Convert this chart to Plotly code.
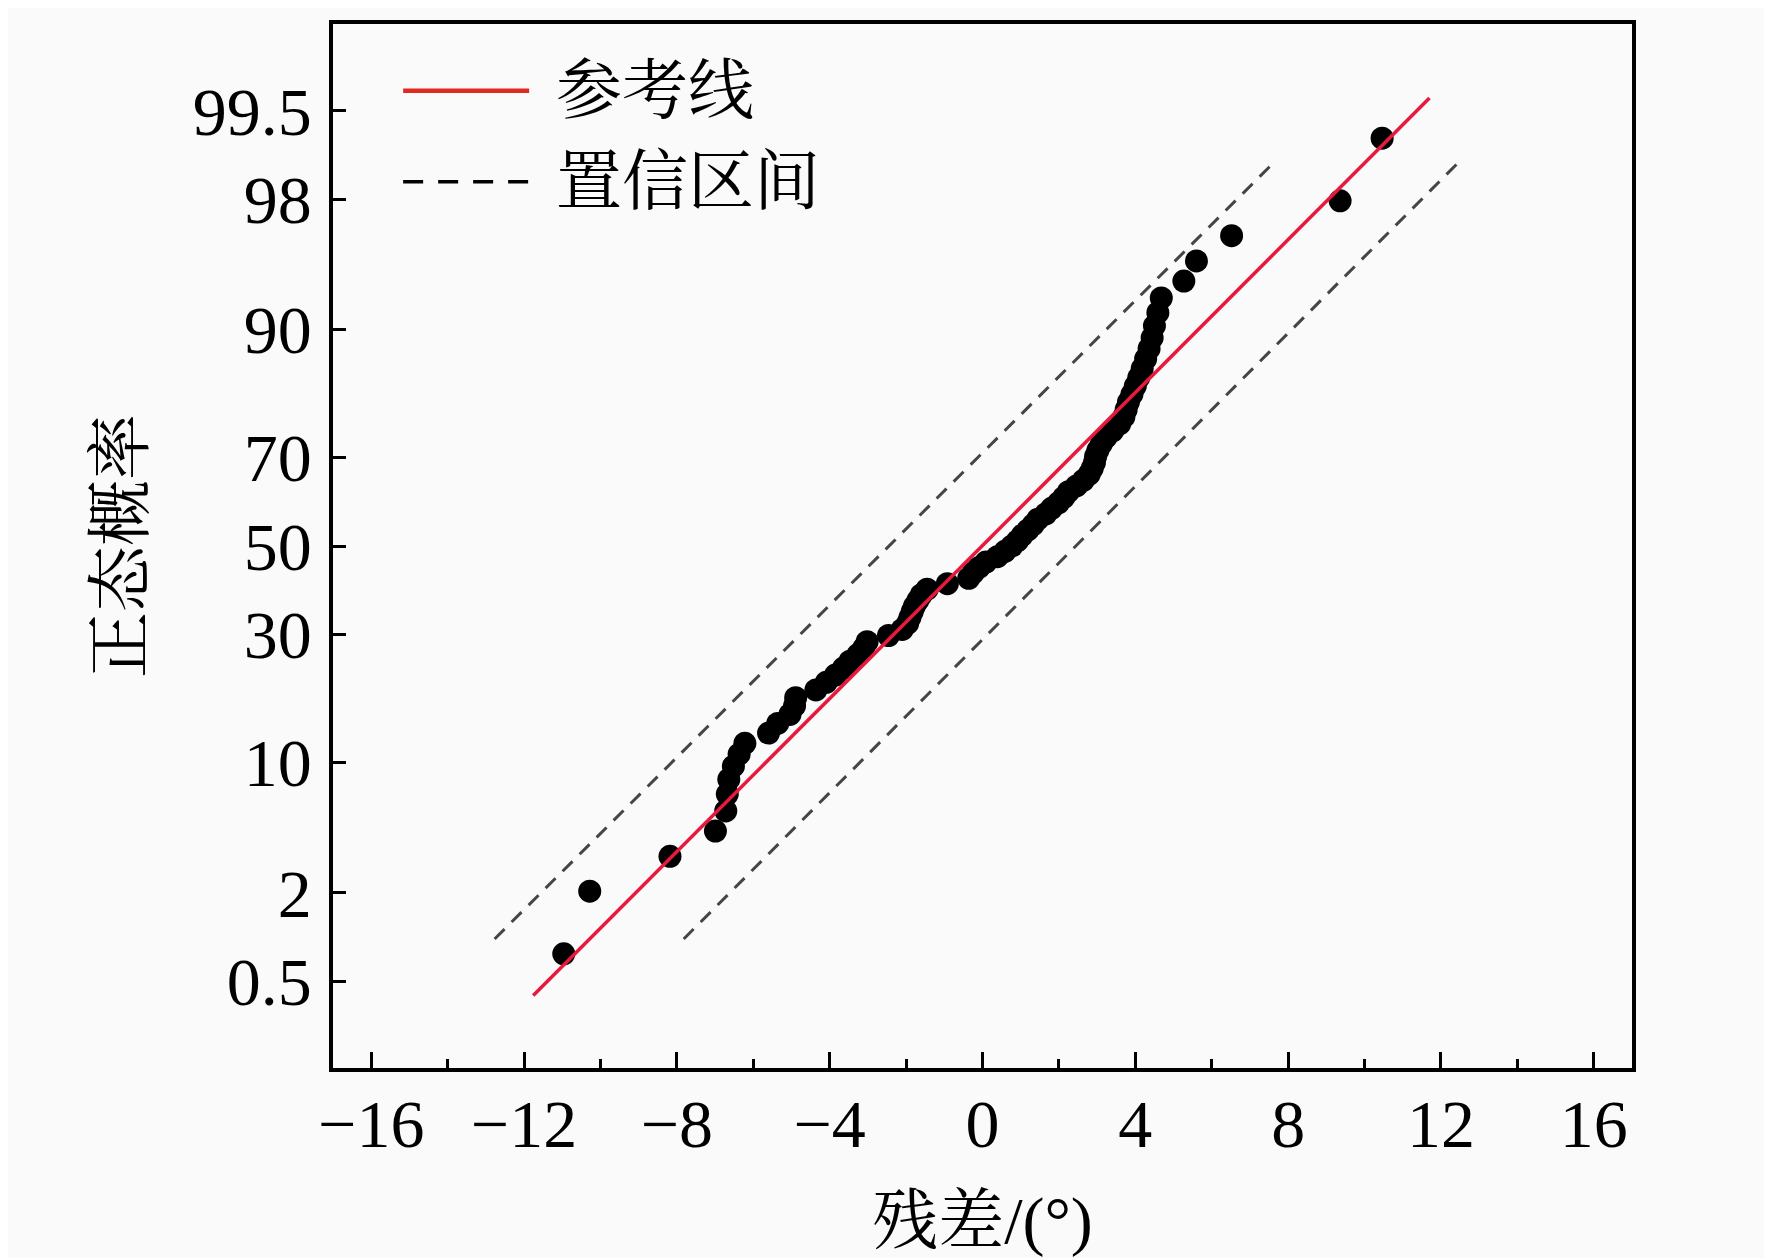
from statistics import NormalDist
import plotly.graph_objects as go

# residuals in degrees, sorted (79 points)
residuals = [
    -10.96, -10.28, -8.18, -6.99, -6.72, -6.68, -6.64, -6.52, -6.37, -6.22,
    -5.60, -5.36, -5.04, -4.92, -4.89, -4.36, -4.09, -3.85, -3.64, -3.47,
    -3.26, -3.11, -3.02, -2.46, -2.10, -1.96, -1.90, -1.84, -1.78, -1.69,
    -1.60, -1.45, -0.92, -0.36, -0.24, -0.09, 0.09, 0.39, 0.59, 0.77,
    0.92, 1.04, 1.19, 1.33, 1.45, 1.66, 1.81, 1.99, 2.13, 2.25,
    2.46, 2.64, 2.79, 2.87, 2.93, 2.96, 3.02, 3.11, 3.23, 3.41,
    3.59, 3.70, 3.76, 3.82, 3.91, 4.00, 4.09, 4.18, 4.27, 4.36,
    4.44, 4.50, 4.59, 4.68, 5.27, 5.60, 6.52, 9.36, 10.46,
]

# reference line and confidence band ends (residual, probability %)
ref_x = [-11.76, 11.70]
ref_p = [0.39, 99.60]
upper_x = [-12.77, 7.61]
upper_p = [1.0, 98.83]
lower_x = [-7.82, 12.47]
lower_p = [1.0, 98.85]

prob_ticks = [0.5, 2, 10, 30, 50, 70, 90, 98, 99.5]
prob_labels = ["0.5", "2", "10", "30", "50", "70", "90", "98", "99.5"]
prob_range = [0.1, 99.9]

nd = NormalDist()


def to_z(pct):
    return [nd.inv_cdf(v / 100.0) for v in pct]


# probability plotting positions (Blom)
n = len(residuals)
pos_p = [100.0 * (i - 0.375) / (n + 0.25) for i in range(1, n + 1)]

NUM_FONT = "Liberation Serif, Times New Roman, serif"
CJK_FONT = "Liberation Serif, Noto Serif CJK SC, Noto Sans CJK SC, serif"
RED = "#e8193f"
DASH = "#454545"

fig = go.Figure()

fig.add_trace(go.Scatter(x=upper_x, y=to_z(upper_p), mode="lines",
                         line=dict(color=DASH, width=3, dash="14px,10px"),
                         name="置信区间", showlegend=False))
fig.add_trace(go.Scatter(x=lower_x, y=to_z(lower_p), mode="lines",
                         line=dict(color=DASH, width=3, dash="14px,10px"),
                         showlegend=False))
fig.add_trace(go.Scatter(x=residuals, y=to_z(pos_p), mode="markers",
                         marker=dict(color="black", size=23),
                         showlegend=False))
fig.add_trace(go.Scatter(x=ref_x, y=to_z(ref_p), mode="lines",
                         line=dict(color=RED, width=3.5),
                         name="参考线", showlegend=False))

# legend drawn by hand so the samples are as long as in the original
fig.add_shape(type="line", xref="paper", yref="paper",
              x0=0.054, x1=0.151, y0=0.936, y1=0.936,
              line=dict(color="#e02a1e", width=4.5))
fig.add_shape(type="line", xref="paper", yref="paper",
              x0=0.054, x1=0.151, y0=0.849, y1=0.849,
              line=dict(color="black", width=3.5, dash="20px,15px"))
fig.add_annotation(text="参考线", xref="paper", yref="paper", x=0.170, y=0.936,
                   xanchor="left", yanchor="middle", showarrow=False,
                   font=dict(family=CJK_FONT, size=66, color="black"))
fig.add_annotation(text="置信区间", xref="paper", yref="paper", x=0.170, y=0.849,
                   xanchor="left", yanchor="middle", showarrow=False,
                   font=dict(family=CJK_FONT, size=66, color="black"))

fig.update_xaxes(
    range=[-17, 17], tick0=0, dtick=4,
    ticks="inside", ticklen=16, tickwidth=3, tickcolor="black",
    minor=dict(dtick=2, ticks="inside", ticklen=9, tickwidth=3, tickcolor="black"),
    showline=True, linewidth=3.5, linecolor="black", mirror=True,
    showgrid=False, zeroline=False,
    tickfont=dict(family=NUM_FONT, size=68, color="black"),
    ticklabelstandoff=-6,
    title=dict(text="残差/(°)", standoff=37,
               font=dict(family=CJK_FONT, size=66, color="black")),
)
fig.update_yaxes(
    range=to_z(prob_range),
    tickvals=to_z(prob_ticks), ticktext=prob_labels,
    ticks="inside", ticklen=13, tickwidth=3, tickcolor="black",
    showline=True, linewidth=3.5, linecolor="black", mirror=True,
    showgrid=False, zeroline=False,
    tickfont=dict(family=NUM_FONT, size=68, color="black"),
    ticklabelstandoff=4,
    title=dict(text="正态概率", standoff=29,
               font=dict(family=CJK_FONT, size=66, color="black")),
)

fig.update_layout(
    width=1764, height=1250,
    margin=dict(l=325, r=140, t=15, b=189),
    paper_bgcolor="#fafafa", plot_bgcolor="#fafafa",
    showlegend=False,
)

fig.write_html("out.html")
